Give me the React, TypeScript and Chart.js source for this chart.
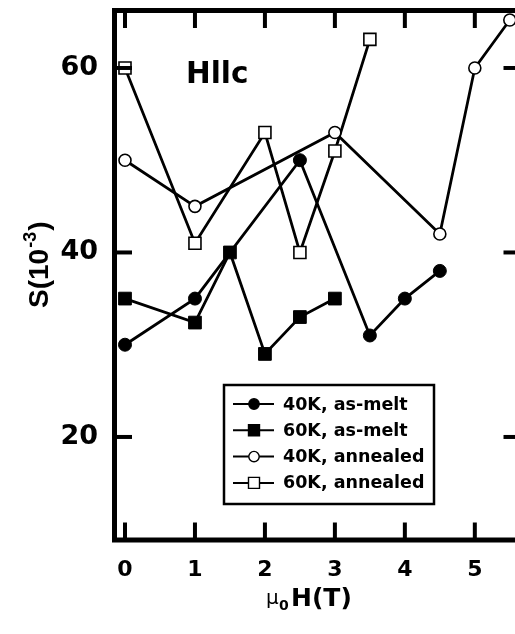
import React, { useEffect, useRef } from "react";
import { Chart, registerables } from "chart.js";

Chart.register(...registerables);

// ---- data ----
const xTicks = [0, 1, 2, 3, 4, 5];
const yTicks = [20, 40, 60];

const seriesLabels = ["40K, as-melt", "60K, as-melt", "40K, annealed", "60K, annealed"];

const melt40X = [0, 1, 2.5, 3.5, 4, 4.5];
const melt40Y = [30, 35, 50, 31, 35, 38];

const melt60X = [0, 1, 1.5, 2, 2.5, 3];
const melt60Y = [35, 32.4, 40, 29, 33, 35];

const ann40X = [0, 1, 3, 4.5, 5, 5.5];
const ann40Y = [50, 45, 53, 42, 60, 65.2];

const ann60X = [0, 1, 2, 2.5, 3, 3.5];
const ann60Y = [60, 41, 53, 40, 51, 63.1];

const annotationText = "Hllc";
const xTitleMain = "H(T)";
const yTitleMain = "S(10";

const FONT = "DejaVu Sans";

function mk(xs: number[], ys: number[]) {
  return xs.map((x, i) => ({ x, y: ys[i] }));
}

const framePlugin = {
  id: "frame",
  afterDraw(chart: any) {
    const { ctx, chartArea } = chart;
    const { left, right, top, bottom } = chartArea;
    const xs = chart.scales.x;
    const ys = chart.scales.y;
    ctx.save();
    ctx.strokeStyle = "#000";
    ctx.fillStyle = "#000";
    // frame
    ctx.lineWidth = 5;
    ctx.strokeRect(left, top, right - left, bottom - top);
    // ticks
    ctx.lineWidth = 4;
    const line = (x1: number, y1: number, x2: number, y2: number) => {
      ctx.beginPath();
      ctx.moveTo(x1, y1);
      ctx.lineTo(x2, y2);
      ctx.stroke();
    };
    const tl = 17.5;
    xTicks.forEach((v) => {
      const px = xs.getPixelForValue(v);
      line(px, bottom, px, bottom - tl);
      line(px, top, px, top + tl);
    });
    yTicks.forEach((v) => {
      const py = ys.getPixelForValue(v);
      line(left, py, left + tl, py);
      line(right, py, right - tl, py);
    });

    // annotation
    ctx.textAlign = "left";
    ctx.textBaseline = "alphabetic";
    ctx.font = `bold 29.5px "${FONT}"`;
    ctx.fillText(annotationText, 186, 83);

    // x title: mu_0 H(T)
    ctx.font = `20px "${FONT}"`;
    ctx.fillText("\u03bc", 266, 604);
    ctx.font = `bold 14px "${FONT}"`;
    ctx.fillText("0", 279, 610);
    ctx.font = `bold 25px "${FONT}"`;
    ctx.fillText(xTitleMain, 291, 606);

    // y title: S(10^-3)
    ctx.save();
    ctx.translate(48, 308);
    ctx.rotate(-Math.PI / 2);
    ctx.font = `bold 28px "Liberation Sans"`;
    ctx.fillText(yTitleMain, 0, 0);
    let w = ctx.measureText(yTitleMain).width;
    ctx.font = `bold 18px "Liberation Sans"`;
    ctx.fillText("-3", w + 1, -12);
    w += ctx.measureText("-3").width + 2;
    ctx.font = `bold 28px "Liberation Sans"`;
    ctx.fillText(")", w, 0);
    ctx.restore();

    // legend
    const bx = 224, by = 385, bw = 210, bh = 119;
    ctx.fillStyle = "#fff";
    ctx.fillRect(bx, by, bw, bh);
    ctx.lineWidth = 2.5;
    ctx.strokeStyle = "#000";
    ctx.strokeRect(bx, by, bw, bh);
    chart.data.datasets.forEach((ds: any, i: number) => {
      const ry = 404 + i * 26.3;
      ctx.lineWidth = 2;
      ctx.strokeStyle = "#000";
      line(233, ry, 274, ry);
      const filled = ds.pointBackgroundColor === "#000";
      ctx.fillStyle = filled ? "#000" : "#fff";
      ctx.lineWidth = 1.4;
      ctx.beginPath();
      if (ds.pointStyle === "circle") {
        ctx.arc(254, ry, 5.2, 0, Math.PI * 2);
      } else {
        ctx.rect(248.5, ry - 5.5, 11, 11);
      }
      ctx.fill();
      ctx.stroke();
      ctx.fillStyle = "#000";
      ctx.font = `bold 17.5px "${FONT}"`;
      ctx.textBaseline = "middle";
      ctx.textAlign = "left";
      ctx.fillText(ds.label, 283, ry + 1);
    });
    ctx.restore();
  },
};

export default function App() {
  const ref = useRef<HTMLCanvasElement>(null);
  useEffect(() => {
    if (!ref.current) return;
    const base = {
      borderColor: "#000",
      borderWidth: 2.8,
      pointBorderColor: "#000",
      showLine: true,
      fill: false,
      tension: 0,
    };
    const chart = new Chart(ref.current, {
      type: "line",
      data: {
        datasets: [
          {
            ...base,
            label: seriesLabels[0],
            data: mk(melt40X, melt40Y),
            pointStyle: "circle",
            pointRadius: 6.5,
            pointBackgroundColor: "#000",
            pointBorderWidth: 1,
          },
          {
            ...base,
            label: seriesLabels[1],
            data: mk(melt60X, melt60Y),
            pointStyle: "rect",
            pointRadius: 9,
            pointBackgroundColor: "#000",
            pointBorderWidth: 1,
          },
          {
            ...base,
            label: seriesLabels[2],
            data: mk(ann40X, ann40Y),
            pointStyle: "circle",
            pointRadius: 6,
            pointBackgroundColor: "#fff",
            pointBorderWidth: 1.6,
          },
          {
            ...base,
            label: seriesLabels[3],
            data: mk(ann60X, ann60Y),
            pointStyle: "rect",
            pointRadius: 8.5,
            pointBackgroundColor: "#fff",
            pointBorderWidth: 1.6,
          },
        ] as any,
      },
      options: {
        responsive: false,
        animation: false,
        layout: { padding: { top: 10.5, right: 19, left: 0, bottom: 0 } },
        plugins: { legend: { display: false }, tooltip: { enabled: false } },
        scales: {
          x: {
            type: "linear",
            min: -0.15,
            max: 5.66,
            afterBuildTicks: (s: any) => {
              s.ticks = xTicks.map((v) => ({ value: v }));
            },
            afterFit: (s: any) => {
              s.height = 94;
              s.paddingLeft = 0;
              s.paddingRight = 0;
              s.paddingTop = 0;
              s.paddingBottom = 0;
            },
            grid: { display: false, drawTicks: false },
            border: { display: false },
            ticks: {
              padding: 17,
              color: "#000",
              autoSkip: false,
              maxRotation: 0,
              font: { family: FONT, weight: "bold", size: 22 },
            },
          },
          y: {
            type: "linear",
            min: 8.83,
            max: 66.23,
            afterBuildTicks: (s: any) => {
              s.ticks = yTicks.map((v) => ({ value: v }));
            },
            afterFit: (s: any) => {
              s.width = 114.5;
              s.paddingLeft = 0;
              s.paddingRight = 0;
              s.paddingTop = 0;
              s.paddingBottom = 0;
            },
            grid: { display: false, drawTicks: false },
            border: { display: false },
            ticks: {
              padding: 16.5,
              color: "#000",
              autoSkip: false,
              font: { family: FONT, weight: "bold", size: 27 },
            },
          },
        },
      } as any,
      plugins: [framePlugin],
    });
    return () => chart.destroy();
  }, []);
  return (
    <div
      style={{
        position: "fixed",
        left: 0,
        top: 0,
        width: 515,
        height: 634,
        overflow: "hidden",
        background: "#fff",
      }}
    >
      <canvas ref={ref} width={540} height={634} style={{ display: "block" }} />
    </div>
  );
}
